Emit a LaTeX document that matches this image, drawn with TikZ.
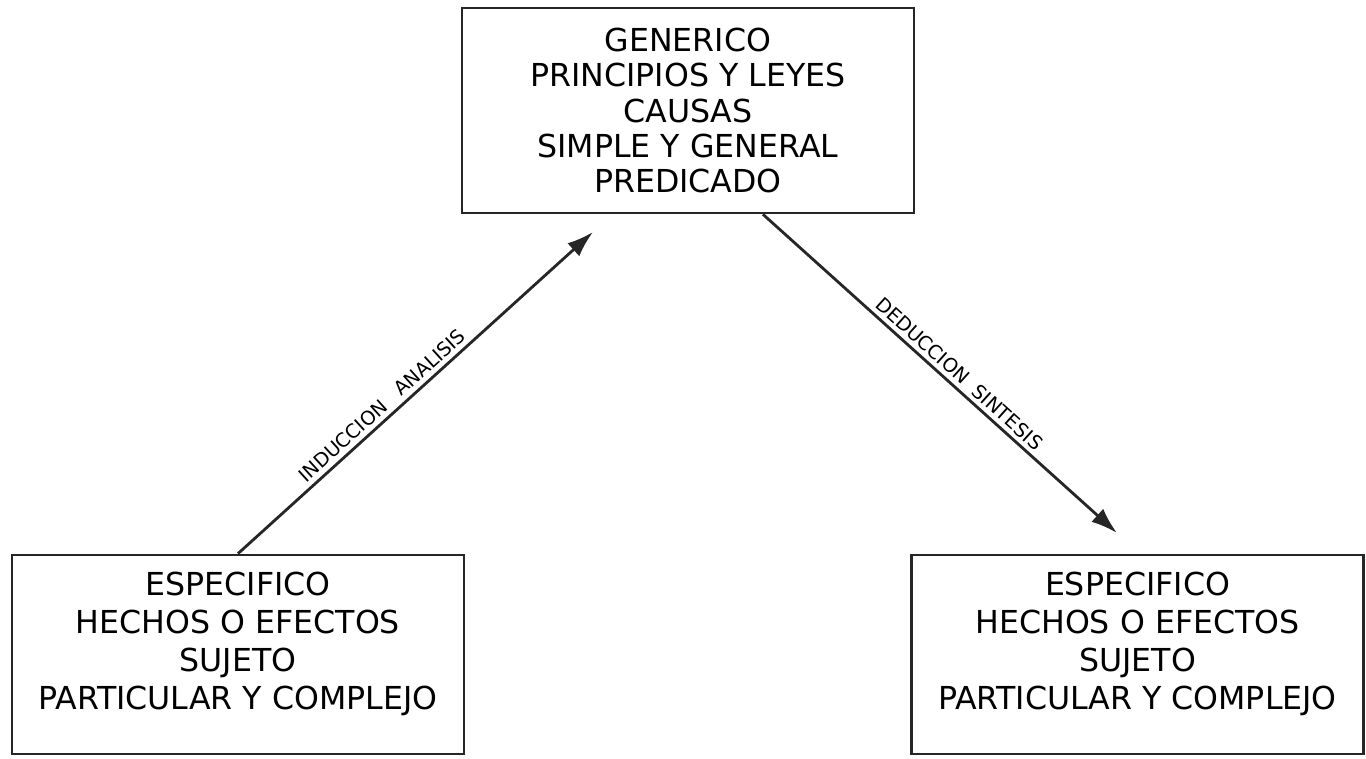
\documentclass[tikz,border=0pt]{standalone}
\usepackage{fontspec}
\setmainfont{DejaVu Sans}
\usetikzlibrary{arrows.meta,calc}

\begin{document}
\begin{tikzpicture}[x=0.02cm,y=0.02cm,
   caja/.style={draw=black!85, line width=1.6pt, minimum width=9.04cm,
                align=center, inner sep=0pt, font=\fontsize{18}{21.6}\selectfont},
   flecha/.style={draw=black!85, line width=1.6pt,
                  -{Latex[length=15pt,width=10pt]}},
   etiqueta/.style={font=\fontsize{11}{13}\selectfont, sloped, above, inner sep=2.5pt}]

\useasboundingbox (0,0) rectangle (1366,758);

\node[caja, minimum height=4.1cm, font=\fontsize{18}{20}\selectfont] (gen) at (688,647.5)
   {GENERICO\\PRINCIPIOS Y LEYES\\CAUSAS\\SIMPLE Y GENERAL\\PREDICADO};

\node[caja, minimum height=3.98cm] (izq) at (238,103.5)
   {ESPECIFICO\\HECHOS O EFECTOS\\SUJETO\\PARTICULAR Y COMPLEJO\\[-6pt]\mbox{}};

\node[caja, minimum height=3.98cm] (der) at (1137.5,103.5)
   {ESPECIFICO\\HECHOS O EFECTOS\\SUJETO\\PARTICULAR Y COMPLEJO\\[-6pt]\mbox{}};

\coordinate (puntaA) at (593,526);
\coordinate (puntaB) at (1117,225);

\draw[flecha] (izq.north) -- (puntaA)
   node[etiqueta, pos=0.43] {INDUCCION\hspace{0.9em}ANALISIS};
\draw[flecha] ($(gen.south)+(75,0)$) -- (puntaB)
   node[etiqueta, pos=0.53] {DEDUCCION\hspace{0.6em}SINTESIS};

\end{tikzpicture}
\end{document}
